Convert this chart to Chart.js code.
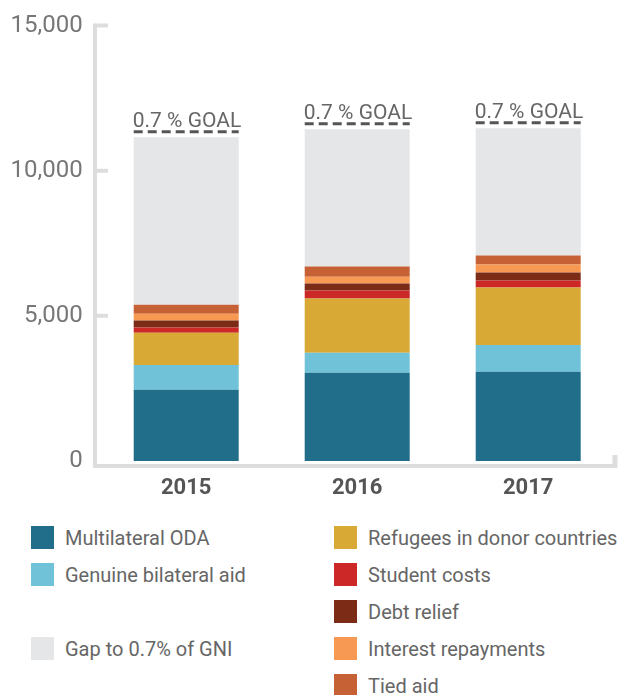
<!DOCTYPE html>
<html>
<head>
<meta charset="utf-8">
<script src="https://cdn.jsdelivr.net/npm/chart.js@4.4.1/dist/chart.umd.min.js"></script>
<style>
  body { margin: 0; background: #fff; }
  #wrap { position: relative; width: 625px; height: 695px; }
  #c { position: absolute; left: 0; top: 0; }
  .item { position: absolute; height: 23px; }
  .sw { position: absolute; left: 0; top: 0; width: 23px; height: 23px; }
  .lbl { position: absolute; left: 34px; top: 0; line-height: 23px; white-space: nowrap;
         font: 20px Roboto, "Liberation Sans", sans-serif; color: #666; }
</style>
</head>
<body>
<div id="wrap">
  <canvas id="c" width="625" height="510"></canvas>
  <div id="legend"></div>
</div>
<script>
// data
const years = ['2015', '2016', '2017'];
const multilateral = [2450, 3040, 3075];
const genuineBilateral = [855, 690, 920];
const refugees = [1115, 1865, 1980];
const studentCosts = [175, 275, 240];
const debtRelief = [240, 240, 275];
const interestRepay = [240, 240, 275];
const tiedAid = [310, 345, 310];
const gapToGoal = [5770, 4735, 4390];
const yTicks = [0, 5000, 10000, 15000];
const goalLabel = '0.7 % GOAL';

const series = [
  { label: 'Multilateral ODA', data: multilateral, color: '#216e8a' },
  { label: 'Genuine bilateral aid', data: genuineBilateral, color: '#6fc2d8' },
  { label: 'Refugees in donor countries', data: refugees, color: '#d8a934' },
  { label: 'Student costs', data: studentCosts, color: '#cc2828' },
  { label: 'Debt relief', data: debtRelief, color: '#7b2b16' },
  { label: 'Interest repayments', data: interestRepay, color: '#f79853' },
  { label: 'Tied aid', data: tiedAid, color: '#c66035' },
  { label: 'Gap to 0.7% of GNI', data: gapToGoal, color: '#e5e6e8' },
];

// legend columns (null = empty row)
const legendLeft = ['Multilateral ODA', 'Genuine bilateral aid', null, 'Gap to 0.7% of GNI'];
const legendRight = ['Refugees in donor countries', 'Student costs', 'Debt relief', 'Interest repayments', 'Tied aid'];

const AXIS = '#dddddd';

// axis frame: left line with inward ticks, bottom line with end tick
const framePlugin = {
  id: 'frame',
  afterDraw(chart) {
    const ctx = chart.ctx;
    const y = chart.scales.y;
    const ax = 95;
    const by = 466;
    ctx.save();
    ctx.strokeStyle = AXIS;
    ctx.lineWidth = 4;
    ctx.beginPath();
    ctx.moveTo(ax, y.getPixelForValue(15000) - 2);
    ctx.lineTo(ax, by + 2);
    ctx.moveTo(ax - 2, by);
    ctx.lineTo(617, by);
    ctx.stroke();
    ctx.lineWidth = 5;
    ctx.beginPath();
    ctx.moveTo(615, by + 2);
    ctx.lineTo(615, 455);
    ctx.stroke();
    ctx.lineWidth = 4;
    ctx.beginPath();
    yTicks.filter(v => v > 0).forEach(v => {
      const py = y.getPixelForValue(v);
      ctx.moveTo(ax, py);
      ctx.lineTo(108, py);
    });
    ctx.stroke();
    ctx.restore();
  }
};

// dashed goal marker above each full stack
const goalPlugin = {
  id: 'goal',
  afterDatasetsDraw(chart) {
    const ctx = chart.ctx;
    const meta = chart.getDatasetMeta(chart.data.datasets.length - 1);
    ctx.save();
    meta.data.forEach(bar => {
      const left = bar.x - bar.width / 2;
      const right = bar.x + bar.width / 2;
      const ly = bar.y - 5.5;
      ctx.strokeStyle = '#555';
      ctx.lineWidth = 3;
      ctx.setLineDash([9, 5]);
      ctx.beginPath();
      ctx.moveTo(left, ly);
      ctx.lineTo(right, ly);
      ctx.stroke();
      ctx.setLineDash([]);
      ctx.fillStyle = '#666';
      ctx.font = '21px Roboto, "Liberation Sans", sans-serif';
      ctx.textAlign = 'left';
      ctx.textBaseline = 'alphabetic';
      ctx.fillText(goalLabel, left - 1, ly - 5);
    });
    ctx.restore();
  }
};

new Chart(document.getElementById('c'), {
  type: 'bar',
  data: {
    labels: years,
    datasets: series.map(s => ({
      label: s.label,
      data: s.data,
      backgroundColor: s.color,
      borderWidth: 0,
      categoryPercentage: 1,
      barPercentage: 0.614,
    })),
  },
  options: {
    responsive: false,
    animation: false,
    layout: { padding: { top: 25.5, right: 11.3, left: 0, bottom: 0 } },
    plugins: { legend: { display: false }, tooltip: { enabled: false } },
    scales: {
      x: {
        stacked: true,
        grid: { display: false, drawTicks: false },
        border: { display: false },
        ticks: { color: '#555', font: { family: 'Roboto', size: 22, weight: 'bold' }, padding: 14 },
        afterFit(s) { s.height = 49; s.paddingLeft = 0; s.paddingRight = 0; },
      },
      y: {
        stacked: true,
        min: 0,
        max: 15000,
        afterBuildTicks(s) { s.ticks = yTicks.map(v => ({ value: v })); },
        grid: { display: false, drawTicks: false },
        border: { display: false },
        ticks: {
          color: '#777',
          font: { family: 'Roboto', size: 24 },
          padding: 18,
          callback: v => v.toLocaleString('en-US'),
        },
        afterFit(s) { s.width = 100.7; s.paddingTop = 0; s.paddingBottom = 0; },
      },
    },
  },
  plugins: [framePlugin, goalPlugin],
});

// html legend
const legendEl = document.getElementById('legend');
const colorOf = name => series.find(s => s.label === name).color;
[[legendLeft, 31], [legendRight, 334]].forEach(([col, x]) => {
  col.forEach((name, row) => {
    if (!name) return;
    const item = document.createElement('div');
    item.className = 'item';
    item.style.left = x + 'px';
    item.style.top = (526 + row * 37) + 'px';
    item.innerHTML = '<div class="sw" style="background:' + colorOf(name) + '"></div>' +
      '<div class="lbl">' + name + '</div>';
    legendEl.appendChild(item);
  });
});
</script>
</body>
</html>
